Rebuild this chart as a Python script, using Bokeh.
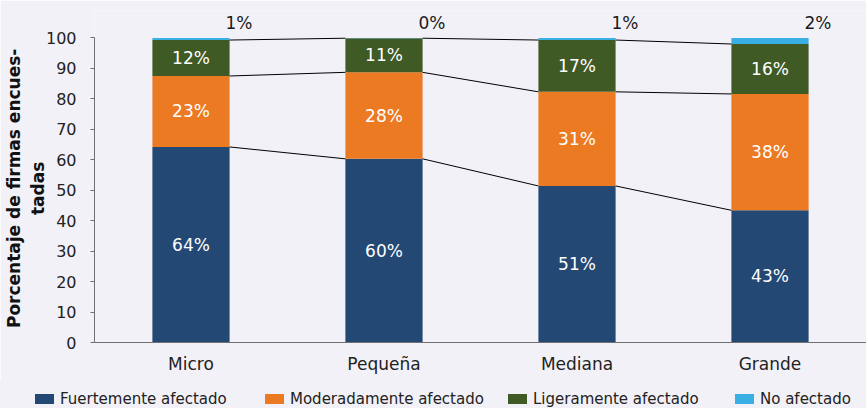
from bokeh.plotting import figure
from bokeh.layouts import column
from bokeh.models import (FactorRange, Range1d, ColumnDataSource, Div, SingleIntervalTicker)
from bokeh.transform import dodge
from bokeh.core.properties import value
from bokeh.embed import file_html
from bokeh.resources import INLINE

categories = ["Micro", "Pequeña", "Mediana", "Grande"]
fuerte = [64.2, 60.3, 51.4, 43.4]
moderado = [23.3, 28.4, 30.9, 38.2]
ligero = [11.8, 11.2, 17.0, 16.4]
no_afectado = [0.7, 0.1, 0.7, 2.0]
series_names = ["Fuertemente afectado", "Moderadamente afectado", "Ligeramente afectado", "No afectado"]

colors = ["#234874", "#EC7A23", "#405A26", "#3AAFE3"]
bg = "#F2F1F7"
FONT = "DejaVu Sans"

keys = ["fuerte", "moderado", "ligero", "no"]
data = dict(cat=categories, fuerte=fuerte, moderado=moderado, ligero=ligero, no=no_afectado)
source = ColumnDataSource(data)

p = figure(x_range=FactorRange(*categories), y_range=Range1d(0, 109),
           width=866, height=380, output_backend="svg", toolbar_location=None,
           min_border_left=91, min_border_right=0, min_border_top=10, min_border_bottom=38,
           background_fill_color=bg, border_fill_color=bg, outline_line_color=None)

renderers = p.vbar_stack(keys, x="cat", width=0.4, color=colors, line_color=None, source=source)

# connector lines between cumulative tops
c1 = fuerte
c2 = [a + b for a, b in zip(fuerte, moderado)]
c3 = [a + b + c for a, b, c in zip(fuerte, moderado, ligero)]
seg = dict(c0=[], c1=[], y0=[], y1=[])
for cum in (c1, c2, c3):
    for i in range(len(categories) - 1):
        seg["c0"].append(categories[i])
        seg["c1"].append(categories[i + 1])
        seg["y0"].append(cum[i])
        seg["y1"].append(cum[i + 1])
seg_src = ColumnDataSource(seg)
p.segment(x0=dodge("c0", 0.2, range=p.x_range), y0="y0",
          x1=dodge("c1", -0.2, range=p.x_range), y1="y1",
          source=seg_src, line_color="black", line_width=1)

# inner labels
lab = dict(cat=[], y=[], t=[])
bottoms = [0] * len(categories)
for vals in (fuerte, moderado, ligero):
    for i, v in enumerate(vals):
        lab["cat"].append(categories[i])
        lab["y"].append(bottoms[i] + v / 2)
        lab["t"].append(f"{round(v)}%")
    bottoms = [b + v for b, v in zip(bottoms, vals)]
p.text(x="cat", y="y", text="t", source=ColumnDataSource(lab), text_color="white",
       text_font=value(FONT), text_font_size="17px", text_align="center", text_baseline="middle")

top = dict(cat=categories, y=[100] * len(categories), t=[f"{round(v)}%" for v in no_afectado])
p.text(x="cat", y="y", text="t", source=ColumnDataSource(top), text_color="#1a1a1a",
       text_font=value(FONT), text_font_size="17px", text_align="center", text_baseline="bottom",
       x_offset=48, y_offset=-5)

# axes
p.yaxis.bounds = (-1.3, 100)
p.yaxis.ticker = SingleIntervalTicker(interval=10)
p.yaxis.minor_tick_line_color = None
p.yaxis.axis_line_color = "#707070"
p.yaxis.major_tick_line_color = "#707070"
p.yaxis.major_tick_out = 4
p.yaxis.major_tick_in = 0
p.yaxis.major_label_standoff = 14
p.yaxis.major_label_text_font = FONT
p.yaxis.major_label_text_font_size = "16px"
p.yaxis.major_label_text_color = "#222222"
p.yaxis.axis_label = "Porcentaje de firmas encues-    \ntadas    "
p.yaxis.axis_label_text_font = FONT
p.yaxis.axis_label_text_font_size = "17px"
p.yaxis.axis_label_text_font_style = "bold"
p.yaxis.axis_label_text_color = "#111111"
p.yaxis.axis_label_standoff = -5

p.xaxis.axis_line_color = "#707070"
p.xaxis.major_tick_line_color = None
p.xaxis.major_label_text_font = FONT
p.xaxis.major_label_text_font_size = "17px"
p.xaxis.major_label_text_color = "#222222"
p.xaxis.major_label_standoff = 5

p.xgrid.grid_line_color = None
p.ygrid.grid_line_color = None

# legend as HTML row
legend_x = [35, 265, 508, 735]
parts = []
for name, col, x in zip(series_names, colors, legend_x):
    parts.append(
        f'<span style="position:absolute;left:{x}px;top:14px;width:19px;height:10px;background:{col};"></span>'
        f'<span style="position:absolute;left:{x + 25}px;top:10px;height:18px;line-height:18px;'
        f'font-family:\'DejaVu Sans\';font-size:15px;color:#222222;white-space:nowrap;">{name}</span>'
    )
html = f'<div style="position:relative;width:866px;height:28px;background:{bg};">' + "".join(parts) + "</div>"
legend_div = Div(text=html, width=866, height=28, margin=0, styles={"background-color": bg})

layout = column(p, legend_div, spacing=0)
open("out.html", "w").write(file_html(layout, INLINE))
